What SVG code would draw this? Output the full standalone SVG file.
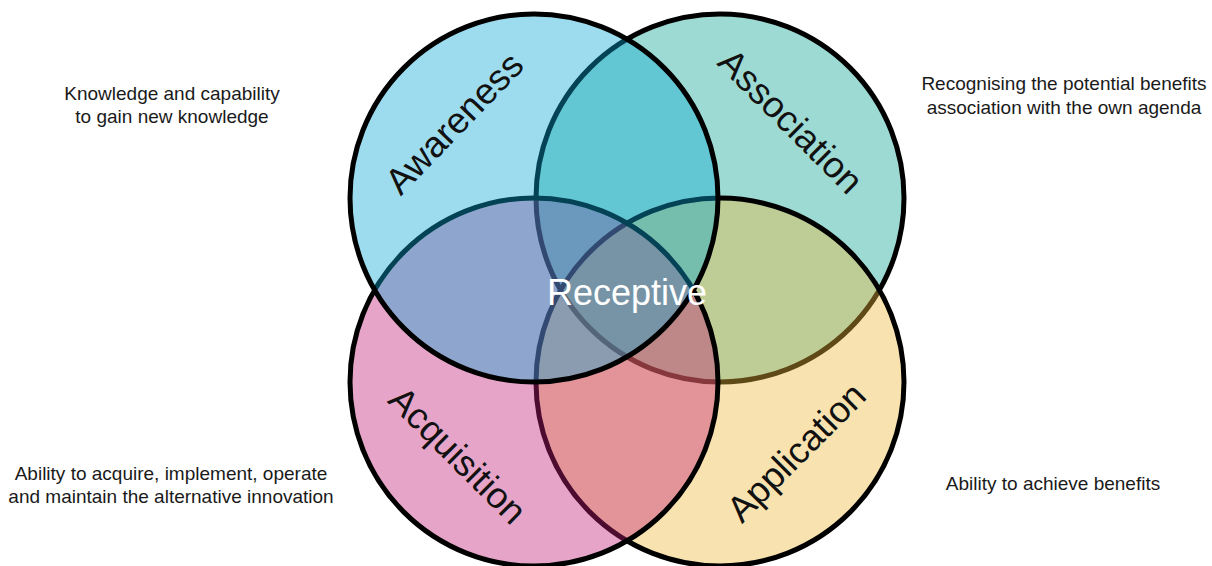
<svg xmlns="http://www.w3.org/2000/svg" width="1212" height="566" viewBox="0 0 1212 566">
<style>
.c{stroke:#000;stroke-width:5;}
.lbl{font-family:"Liberation Sans",Arial,sans-serif;font-size:36.5px;fill:#111;text-anchor:middle;}
.note{font-family:"Liberation Sans",Arial,sans-serif;font-size:19px;fill:#1a1a1a;text-anchor:middle;}
</style>
<rect width="1212" height="566" fill="#fff"/>
<g id="association"><circle class="c" cx="720" cy="198" r="184" fill="rgb(10,162,145)" fill-opacity="0.4"/></g>
<g id="application"><circle class="c" cx="720" cy="382" r="184" fill="rgb(237,185,57)" fill-opacity="0.4"/></g>
<g id="acquisition"><circle class="c" cx="534" cy="382" r="184" fill="rgb(192,30,118)" fill-opacity="0.4"/></g>
<g id="awareness"><circle class="c" cx="534" cy="198" r="184" fill="rgb(10,168,212)" fill-opacity="0.4"/></g>
<g id="labels">
<text class="lbl" transform="translate(454,123) rotate(-46)" dy="0.35em">Awareness</text>
<text class="lbl" transform="translate(791,121) rotate(45)" dy="0.35em">Association</text>
<text class="lbl" transform="translate(458,455) rotate(45)" dy="0.35em">Acquisition</text>
<text class="lbl" transform="translate(796,452) rotate(-45)" dy="0.35em">Application</text>
<text id="receptive" x="627" y="305" font-family="Liberation Sans, Arial, sans-serif" font-size="36" fill="#fff" text-anchor="middle">Receptive</text>
</g>
<g id="notes">
<text class="note" x="172" y="100">Knowledge and capability</text>
<text class="note" x="172" y="123">to gain new knowledge</text>
<text class="note" x="1064" y="90">Recognising the potential benefits</text>
<text class="note" x="1064" y="114">association with the own agenda</text>
<text class="note" x="171" y="480">Ability to acquire, implement, operate</text>
<text class="note" x="171" y="503">and maintain the alternative innovation</text>
<text class="note" x="1053" y="490">Ability to achieve benefits</text>
</g>
</svg>
